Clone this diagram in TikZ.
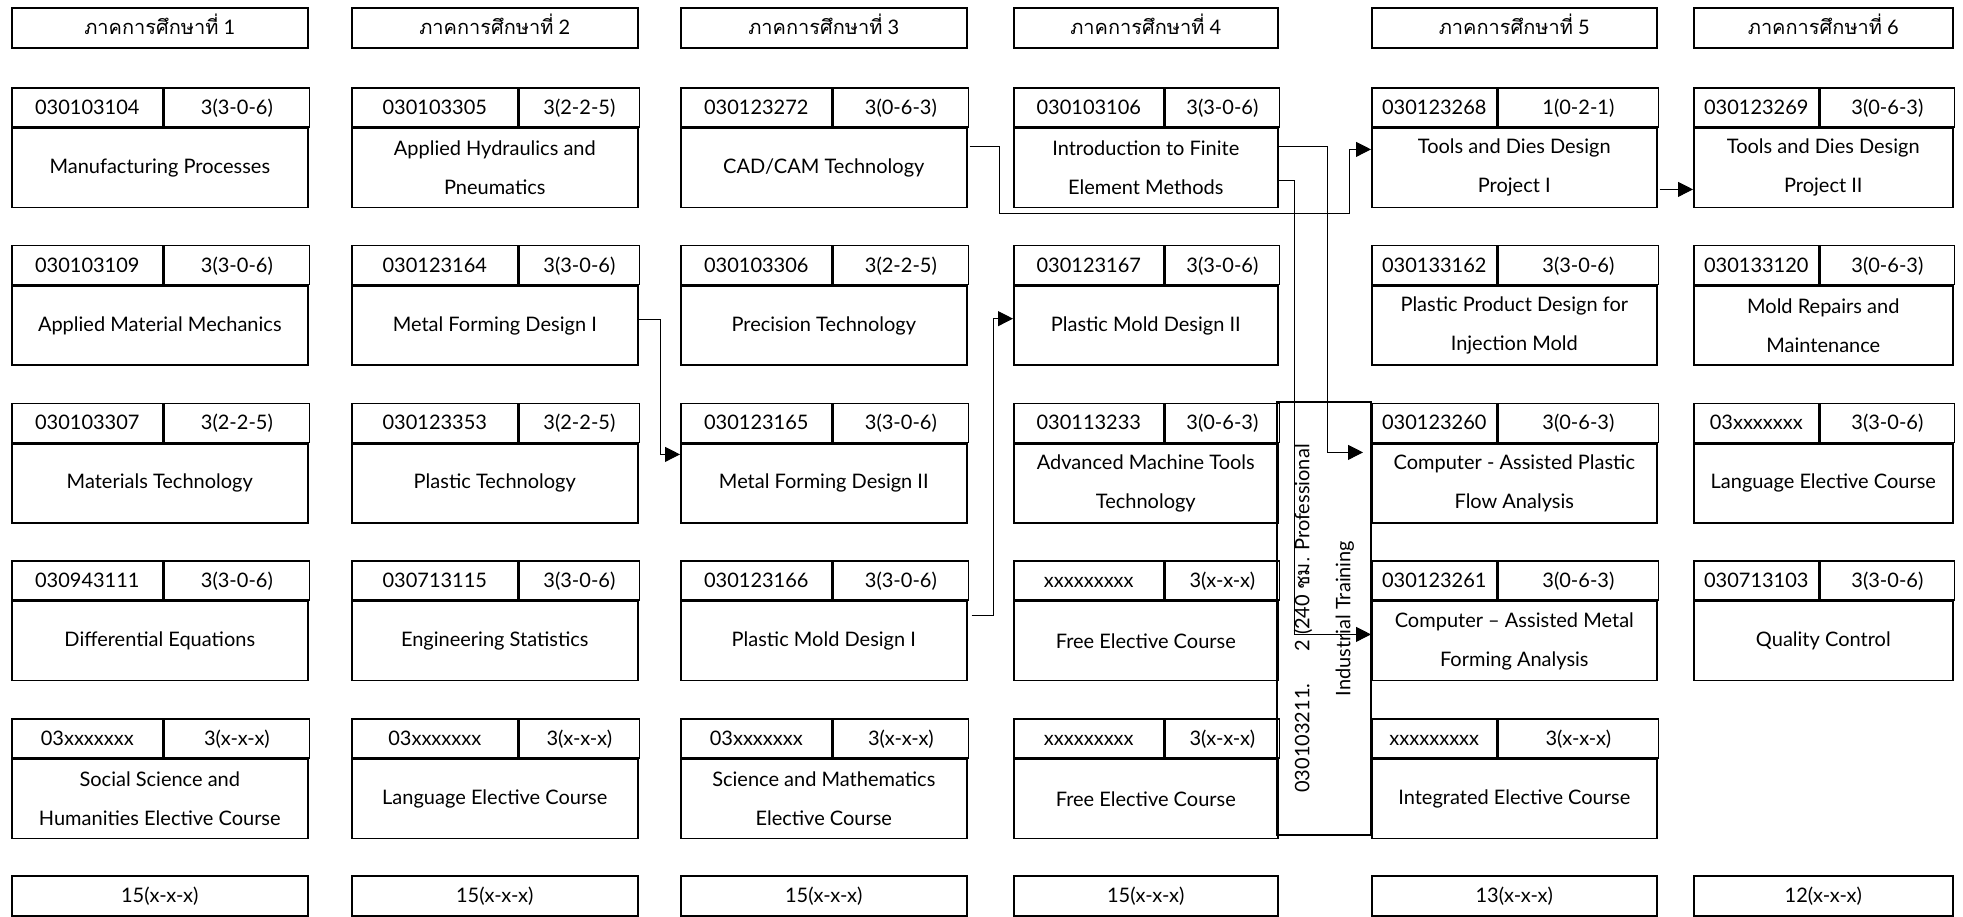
\documentclass[tikz,border=0pt]{standalone}
\usepackage{fontspec}
\setmainfont{Lato}
\newfontfamily\thaifont[Script=Thai]{Loma}
\usepackage{tikz}
\usetikzlibrary{arrows.meta}
\tikzstyle{cell} = [draw=black, line width=1.6pt, rectangle, inner sep=0pt,
    align=center, font=\fontsize{20}{39}\selectfont, text height=16pt, text depth=2pt]
\tikzstyle{body} = [draw=black, line width=1.6pt, rectangle, inner sep=0pt,
    align=center, font=\fontsize{20}{39}\selectfont]
\tikzstyle{link} = [draw=black, line width=1pt, -{Triangle[length=15pt,width=15pt]}]
% name, left, top, width, code width, code, credits, title
\newcommand{\course}[8]{%
    \node[cell, anchor=north west, minimum width=#5pt, minimum height=39pt] (#1code) at (#2,#3) {#6};
    \node[cell, anchor=north west, minimum width={#4pt-#5pt}, minimum height=39pt] (#1cr) at (#1code.north east) {#7};
    \node[body, anchor=north west, minimum width=#4pt, minimum height=79pt] (#1) at (#1code.south west) {#8};
}

\begin{document}
\begin{tikzpicture}[x=1pt, y=-1pt]
                \useasboundingbox (0,0) rectangle (1963,916);
                \node[cell, anchor=north west, minimum width=296pt, minimum height=40pt] (sem1) at (11,7) {{\thaifont ภาคการศึกษาที่} 1};
                \node[cell, anchor=north west, minimum width=286pt, minimum height=40pt] (sem2) at (351,7) {{\thaifont ภาคการศึกษาที่} 2};
                \node[cell, anchor=north west, minimum width=286pt, minimum height=40pt] (sem3) at (680,7) {{\thaifont ภาคการศึกษาที่} 3};
                \node[cell, anchor=north west, minimum width=264pt, minimum height=40pt] (sem4) at (1013,7) {{\thaifont ภาคการศึกษาที่} 4};
                \node[cell, anchor=north west, minimum width=285pt, minimum height=40pt] (sem5) at (1371,7) {{\thaifont ภาคการศึกษาที่} 5};
                \node[cell, anchor=north west, minimum width=259pt, minimum height=40pt] (sem6) at (1693,7) {{\thaifont ภาคการศึกษาที่} 6};

                \course{c11}{11}{87}{296}{151}{030103104}{3(3-0-6)}{Manufacturing Processes}
                \course{c12}{11}{244.75}{296}{151}{030103109}{3(3-0-6)}{Applied Material Mechanics}
                \course{c13}{11}{402.5}{296}{151}{030103307}{3(2-2-5)}{Materials Technology}
                \course{c14}{11}{560.25}{296}{151}{030943111}{3(3-0-6)}{Differential Equations}
                \course{c15}{11}{718}{296}{151}{03xxxxxxx}{3(x-x-x)}{Social Science and\\Humanities Elective Course}

                \course{c21}{351}{87}{286}{166}{030103305}{3(2-2-5)}{Applied Hydraulics and\\Pneumatics}
                \course{c22}{351}{244.75}{286}{166}{030123164}{3(3-0-6)}{Metal Forming Design I}
                \course{c23}{351}{402.5}{286}{166}{030123353}{3(2-2-5)}{Plastic Technology}
                \course{c24}{351}{560.25}{286}{166}{030713115}{3(3-0-6)}{Engineering Statistics}
                \course{c25}{351}{718}{286}{166}{03xxxxxxx}{3(x-x-x)}{Language Elective Course}

                \course{c31}{680}{87}{286}{151}{030123272}{3(0-6-3)}{CAD/CAM Technology}
                \course{c32}{680}{244.75}{286}{151}{030103306}{3(2-2-5)}{Precision Technology}
                \course{c33}{680}{402.5}{286}{151}{030123165}{3(3-0-6)}{Metal Forming Design II}
                \course{c34}{680}{560.25}{286}{151}{030123166}{3(3-0-6)}{Plastic Mold Design I}
                \course{c35}{680}{718}{286}{151}{03xxxxxxx}{3(x-x-x)}{Science and Mathematics\\Elective Course}

                \course{c41}{1013}{87}{264}{150}{030103106}{3(3-0-6)}{Introduction to Finite\\Element Methods}
                \course{c42}{1013}{244.75}{264}{150}{030123167}{3(3-0-6)}{Plastic Mold Design II}
                \course{c43}{1013}{402.5}{264}{150}{030113233}{3(0-6-3)}{Advanced Machine Tools\\Technology}
                \course{c44}{1013}{560.25}{264}{150}{xxxxxxxxx}{3(x-x-x)}{Free Elective Course}
                \course{c45}{1013}{718}{264}{150}{xxxxxxxxx}{3(x-x-x)}{Free Elective Course}

                \course{c51}{1371}{87}{285}{125}{030123268}{1(0-2-1)}{Tools and Dies Design\\Project I}
                \course{c52}{1371}{244.75}{285}{125}{030133162}{3(3-0-6)}{Plastic Product Design for\\Injection Mold}
                \course{c53}{1371}{402.5}{285}{125}{030123260}{3(0-6-3)}{Computer - Assisted Plastic\\Flow Analysis}
                \course{c54}{1371}{560.25}{285}{125}{030123261}{3(0-6-3)}{Computer – Assisted Metal\\Forming Analysis}
                \course{c55}{1371}{718}{285}{125}{xxxxxxxxx}{3(x-x-x)}{Integrated Elective Course}

                \course{c61}{1693}{87}{259}{125}{030123269}{3(0-6-3)}{Tools and Dies Design\\Project II}
                \course{c62}{1693}{244.75}{259}{125}{030133120}{3(0-6-3)}{Mold Repairs and\\Maintenance}
                \course{c63}{1693}{402.5}{259}{125}{03xxxxxxx}{3(3-0-6)}{Language Elective Course}
                \course{c64}{1693}{560.25}{259}{125}{030713103}{3(3-0-6)}{Quality Control}

                \node[body, rotate=90, minimum width=433pt, minimum height=94pt, font=\fontsize{20}{41}\selectfont] (train) at (1324,618.5)
                    {030103211.\hspace{1.6em}2 (240 {\thaifont ชม.} Professional\\Industrial Training};

                \node[cell, anchor=north west, minimum width=296pt, minimum height=40pt] (tot1) at (11,875) {15(x-x-x)};
                \node[cell, anchor=north west, minimum width=286pt, minimum height=40pt] (tot2) at (351,875) {15(x-x-x)};
                \node[cell, anchor=north west, minimum width=286pt, minimum height=40pt] (tot3) at (680,875) {15(x-x-x)};
                \node[cell, anchor=north west, minimum width=264pt, minimum height=40pt] (tot4) at (1013,875) {15(x-x-x)};
                \node[cell, anchor=north west, minimum width=285pt, minimum height=40pt] (tot5) at (1371,875) {13(x-x-x)};
                \node[cell, anchor=north west, minimum width=259pt, minimum height=40pt] (tot6) at (1693,875) {12(x-x-x)};

                \draw[link] ([yshift=6pt]c22.east) -- ++(22,0) |- ([yshift=29pt]c33.west);
                \draw[link] ([xshift=4pt,yshift=26pt]c34.east) -- ++(22,0) |- ([yshift=7pt]c42.west);
                \draw[link] ([xshift=2pt,yshift=21.5pt]c31.east) -- ++(30,0) -- ++(0,67) -- ++(350,0) |- ([yshift=18.5pt]c51.west);
                \draw[link] ([yshift=21.5pt]c41.east) -- ++(49,0) |- ([xshift=-8pt,yshift=31pt]c53.west);
                \draw[link] ([yshift=-12.5pt]c41.east) -- ++(16,0) |- ([yshift=6.75pt]c54.west);
                \draw[link] ([xshift=2pt,yshift=-21.5pt]c51.east) -- ([yshift=-21.5pt]c61.west);
            \end{tikzpicture}
\end{document}
